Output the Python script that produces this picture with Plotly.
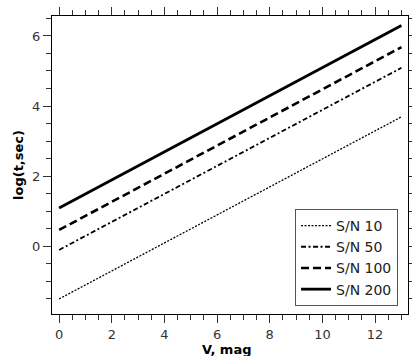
import plotly.graph_objects as go

# Data (straight lines, endpoints)
v_mag = [0, 13]
series_names = ["S/N 10", "S/N 50", "S/N 100", "S/N 200"]
log_t_sn10 = [-1.51, 3.69]
log_t_sn50 = [-0.11, 5.09]
log_t_sn100 = [0.46, 5.68]
log_t_sn200 = [1.09, 6.30]
series_values = [log_t_sn10, log_t_sn50, log_t_sn100, log_t_sn200]

x_ticks = [0, 2, 4, 6, 8, 10, 12]
y_ticks = [0, 2, 4, 6]

styles = [
    dict(dash="2px,1.5px", width=1.3),
    dict(dash="5px,2.5px,2px,2.5px", width=1.8),
    dict(dash="8px,4px", width=2.6),
    dict(dash="solid", width=2.8),
]

fig = go.Figure()
for name, vals, st in zip(series_names, series_values, styles):
    fig.add_trace(go.Scatter(
        x=v_mag, y=vals, mode="lines", name=name,
        line=dict(color="black", dash=st["dash"], width=st["width"]),
    ))

axis_common = dict(
    showline=True, linecolor="black", linewidth=1, mirror="ticks",
    ticks="outside", ticklen=8, tickwidth=1, tickcolor="#333",
    showgrid=False, zeroline=False, automargin=False,
    tickfont=dict(family="DejaVu Sans", size=13, color="#333"),
    minor=dict(ticks="outside", ticklen=5, tickcolor="#333", dtick=0.5, showgrid=False),
)

fig.update_layout(
    width=412, height=356,
    margin=dict(l=52, r=4, t=16, b=42),
    paper_bgcolor="white", plot_bgcolor="white",
    font=dict(family="DejaVu Sans", color="black"),
    showlegend=True,
    legend=dict(
        x=0.972, y=0.027, xanchor="right", yanchor="bottom",
        bordercolor="#555", borderwidth=1, bgcolor="white",
        font=dict(family="DejaVu Sans", size=14, color="#222"),
        tracegroupgap=0, itemwidth=30,
    ),
    xaxis=dict(range=[-0.27, 13.25], tickvals=x_ticks, **axis_common),
    yaxis=dict(range=[-1.94, 6.57], tickvals=y_ticks, **axis_common),
    annotations=[
        dict(text="<b>V, mag</b>", xref="paper", yref="paper", x=0.49, y=0,
             yshift=-35, xanchor="center", yanchor="middle", showarrow=False,
             font=dict(family="DejaVu Sans", size=13, color="black")),
        dict(text="<b>log(t,sec)</b>", xref="paper", yref="paper", x=0, y=0.5,
             xshift=-34, xanchor="center", yanchor="middle", showarrow=False,
             textangle=-90,
             font=dict(family="DejaVu Sans", size=13, color="black")),
    ],
)

fig.write_html(
    "out.html",
    config={"displayModeBar": False},
    post_script="document.body.style.margin='0';document.body.style.overflow='hidden';",
)
